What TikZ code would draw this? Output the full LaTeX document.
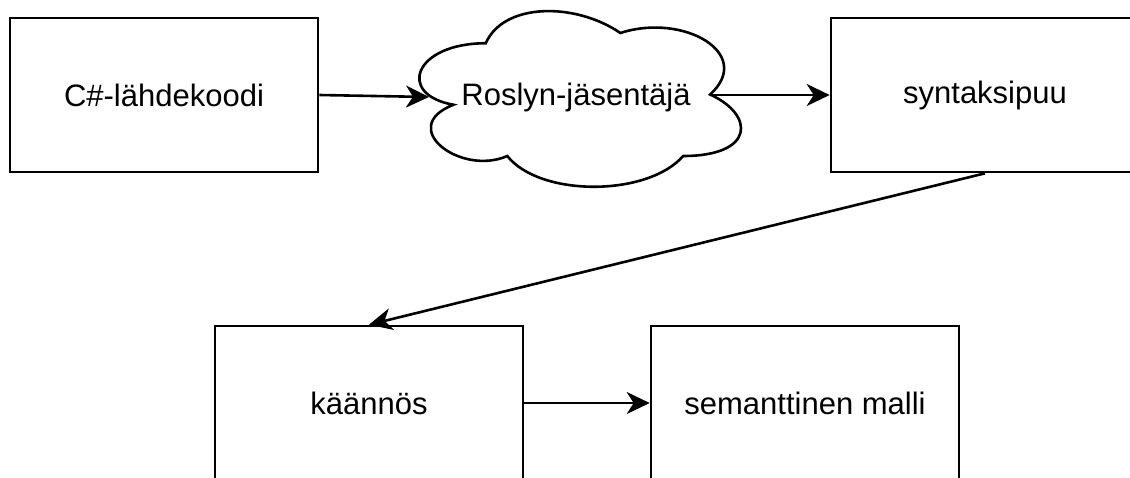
\documentclass[tikz,border=0pt]{standalone}
\usepackage{fontspec}
\setmainfont{Liberation Sans}
\usetikzlibrary{arrows.meta}
\begin{document}
\begin{tikzpicture}[x=1pt,y=-1pt,line width=2.6pt,
  box/.style={draw,rectangle,minimum width=308pt,minimum height=154pt,inner sep=0pt,
    font=\fontsize{31}{37}\selectfont},
  lbl/.style={inner sep=0pt,font=\fontsize{31}{37}\selectfont},
  conn/.style={-{Stealth[length=23pt,width=22pt,inset=7pt]}}]
\clip (0,0) rectangle (1130,477);
\fill[white] (0,0) rectangle (1130,477);
\node[box] (b1) at (164,95) {C\#-lähdekoodi};
\node[box] (b3) at (985,95) {syntaksipuu};
\node[box] (b4) at (369,403) {käännös};
\node[box] (b5) at (805,403) {semanttinen malli};
\begin{scope}[shift={(396,-8)},x=359pt,y=-205pt]
\draw (0.25,0.25) .. controls (0.05,0.25) and (0,0.5) .. (0.16,0.55)
  .. controls (0,0.66) and (0.18,0.9) .. (0.31,0.8)
  .. controls (0.4,1) and (0.7,1) .. (0.8,0.8)
  .. controls (1,0.8) and (1,0.6) .. (0.875,0.5)
  .. controls (1,0.3) and (0.8,0.1) .. (0.625,0.2)
  .. controls (0.5,0.05) and (0.3,0.05) .. (0.25,0.25) -- cycle;
\end{scope}
\node[lbl] (cl) at (576,97) {Roslyn-jäsentäjä};
\coordinate (cin) at (429,97);
\coordinate (cout) at (710,95);
\draw[conn] (b1.east) -- (cin);
\draw[conn] (cout) -- (b3.west);
\draw[conn] (b3.south) -- (b4.north);
\draw[conn] (b4.east) -- (b5.west);
\end{tikzpicture}
\end{document}
